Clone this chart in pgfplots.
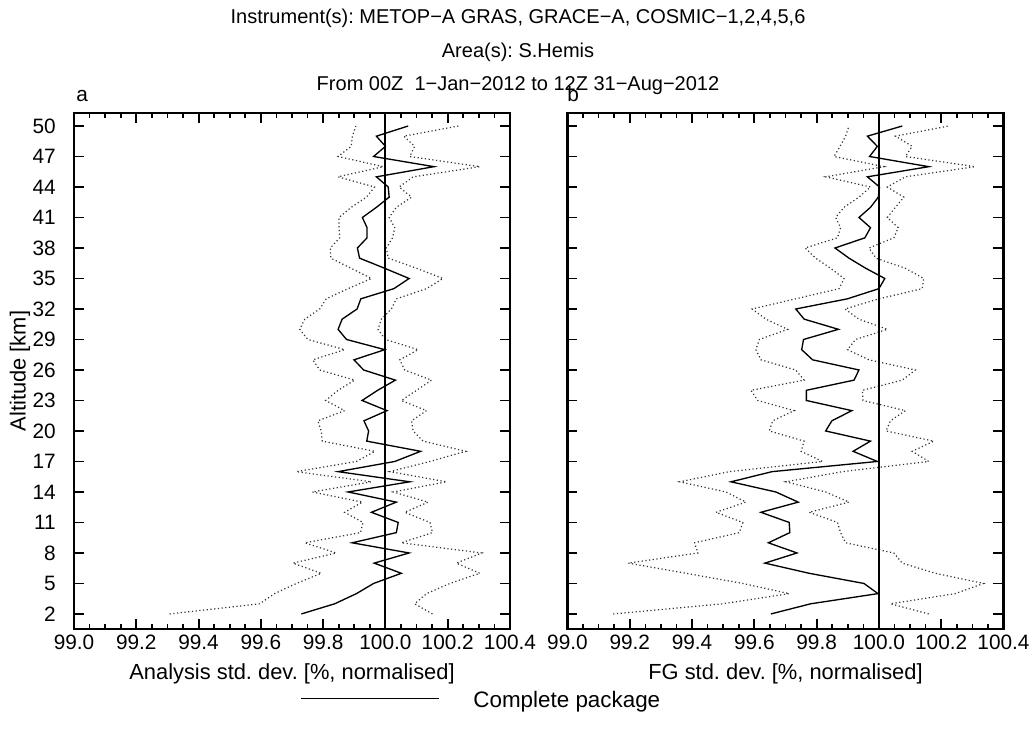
\documentclass[border=0pt]{standalone}
\usepackage{fontspec}
\setmainfont{Liberation Sans}
\usepackage{pgfplots}
\usepackage{pgfplotstable}
\pgfplotsset{compat=1.18}

\pgfplotstableread{
alt mid lo hi
2 99.730 99.307 100.151
3 99.837 99.596 100.094
4 99.907 99.644 100.132
5 99.962 99.714 100.207
6 100.051 99.794 100.303
7 99.964 99.703 100.228
8 100.076 99.842 100.309
9 99.893 99.741 100.051
10 100.035 99.920 100.151
11 100.041 99.928 100.143
12 99.955 99.869 100.062
13 100.035 99.926 100.137
14 99.880 99.765 100.025
15 100.078 99.955 100.196
16 99.848 99.714 100.014
17 100.030 99.907 100.143
18 100.113 99.966 100.258
19 99.940 99.797 100.121
20 99.946 99.794 100.089
21 99.931 99.783 100.084
22 100.005 99.869 100.132
23 99.925 99.808 100.051
24 99.975 99.848 100.100
25 100.032 99.901 100.148
26 99.930 99.789 100.062
27 99.899 99.767 100.046
28 99.998 99.869 100.105
29 99.875 99.751 100.000
30 99.848 99.725 99.976
31 99.861 99.741 99.987
32 99.909 99.789 100.019
33 99.921 99.810 100.035
34 100.027 99.880 100.132
35 100.076 99.955 100.185
36 99.998 99.890 100.100
37 99.917 99.825 100.009
38 99.910 99.823 100.003
39 99.941 99.853 100.023
40 99.941 99.851 100.030
41 99.926 99.851 100.012
42 99.971 99.890 100.035
43 100.012 99.939 100.084
44 100.009 99.965 100.044
45 99.971 99.848 100.089
46 100.156 99.993 100.303
47 99.962 99.848 100.078
48 100.000 99.890 100.094
49 99.971 99.894 100.059
50 100.073 99.905 100.234
}\tabA

\pgfplotstableread{
alt mid lo hi
2 99.653 99.147 100.160
3 99.781 99.499 100.037
4 99.997 99.712 100.245
5 99.952 99.563 100.336
6 99.776 99.381 100.181
7 99.634 99.195 100.075
8 99.737 99.419 100.048
9 99.645 99.408 99.893
10 99.714 99.552 99.877
11 99.712 99.563 99.867
12 99.621 99.477 99.776
13 99.741 99.573 99.904
14 99.669 99.509 99.829
15 99.525 99.360 99.701
16 99.657 99.520 99.883
17 99.995 99.819 100.160
18 99.917 99.750 100.107
19 99.973 99.760 100.176
20 99.829 99.648 100.023
21 99.849 99.659 100.037
22 99.913 99.728 100.085
23 99.767 99.611 99.949
24 99.767 99.589 99.947
25 99.920 99.760 100.075
26 99.936 99.733 100.117
27 99.787 99.621 99.968
28 99.752 99.605 99.899
29 99.758 99.616 99.925
30 99.870 99.707 100.027
31 99.760 99.637 99.936
32 99.733 99.593 99.891
33 99.899 99.733 100.000
34 100.000 99.872 100.139
35 100.019 99.888 100.144
36 99.958 99.845 100.085
37 99.904 99.797 99.991
38 99.859 99.763 99.968
39 99.955 99.867 100.048
40 99.973 99.877 100.062
41 99.936 99.861 100.027
42 99.973 99.888 100.053
43 99.998 99.936 100.080
44 100.002 99.973 100.027
45 99.963 99.829 100.085
46 100.160 100.016 100.309
47 99.970 99.856 100.085
48 99.995 99.875 100.107
49 99.963 99.893 100.053
50 100.075 99.904 100.224
}\tabB

\pgfplotsset{
  panel/.style={
    scale only axis, width=327pt, height=387pt,
    xmin=99, xmax=100.4, ymin=0.52, ymax=51.28,
    xtick={99,99.2,99.4,99.6,99.8,100,100.2,100.4},
    minor x tick num=3,
    ytick={2,5,8,11,14,17,20,23,26,29,32,35,38,41,44,47,50},
    axis line style={line width=1.6pt},
    major tick length=7.5pt, minor tick length=3.75pt,
    every major tick/.append style={black, line width=1.4pt},
    every minor tick/.append style={black, line width=1.2pt},
    xticklabel style={/pgf/number format/fixed, /pgf/number format/fixed zerofill, /pgf/number format/precision=1, /pgf/number format/assume math mode=true},
    yticklabel style={/pgf/number format/assume math mode=true},
    every x tick label/.append style={anchor=center, inner sep=0pt, yshift=-10pt},
    every y tick label/.append style={anchor=east, inner sep=0pt, xshift=-13.5pt},
    every axis x label/.style={at={(axis description cs:0.5,0)}, anchor=center, yshift=-33.5pt, font=\fontsize{16.4pt}{19pt}\selectfont},
    every axis y label/.style={at={(axis description cs:0,0.5)}, anchor=center, xshift=-40.5pt, rotate=90, font=\fontsize{16.4pt}{19pt}\selectfont},
    clip=true,
  },
  dotline/.style={black!80, line width=0.9pt, dash pattern=on 0.9pt off 1.9pt},
  solline/.style={black, line width=1.0pt},
}

\begin{document}
\frenchspacing
\fontsize{15.6pt}{18.5pt}\selectfont
\begin{tikzpicture}
\useasboundingbox (-55.5pt,-81.75pt) rectangle (720pt,471.75pt);

\begin{axis}[panel, at={(0pt,0pt)}, anchor=south west,
  xlabel={Analysis std. dev. [\%, normalised]},
  ylabel={Altitude [km]},
  legend style={draw=none, fill=none, inner sep=0pt, anchor=west, at={(0.518,-0.139)},
    font=\fontsize{16.8pt}{19pt}\selectfont,
    nodes={inner sep=0pt, anchor=west}, /tikz/every odd column/.append style={column sep=25.5pt}},
  legend image code/.code={\draw[#1] (0pt,1.5pt) -- (103.5pt,1.5pt);},
]
\addplot[dotline, forget plot] table[x=lo, y=alt] {\tabA};
\addplot[dotline, forget plot] table[x=hi, y=alt] {\tabA};
\addplot[solline] table[x=mid, y=alt] {\tabA};
\addlegendentry{Complete package}
\addplot[black, line width=1.6pt, forget plot] coordinates {(100,0) (100,52)};
\end{axis}

\begin{axis}[panel, at={(370.1pt,0pt)}, anchor=south west,
  xlabel={FG std. dev. [\%, normalised]},
  yticklabels={},
]
\addplot[dotline] table[x=lo, y=alt] {\tabB};
\addplot[dotline] table[x=hi, y=alt] {\tabB};
\addplot[solline] table[x=mid, y=alt] {\tabB};
\addplot[black, line width=1.3pt] coordinates {(100,0) (100,52)};
\end{axis}

\begin{scope}[every node/.style={font=\fontsize{15pt}{18pt}\selectfont, inner sep=0pt}]
\node[anchor=center] at (333pt,458.25pt) {Instrument(s): METOP−A GRAS, GRACE−A, COSMIC−1,2,4,5,6};
\node[anchor=center] at (333pt,432.75pt) {Area(s): S.Hemis};
\node[anchor=center] at (333pt,407.25pt) {From 00Z\ \ 1−Jan−2012 to 12Z 31−Aug−2012};
\end{scope}
\node[anchor=base west, inner sep=0pt] at (1.5pt,395.25pt) {a};
\node[anchor=base west, inner sep=0pt] at (369.75pt,395.25pt) {b};
\end{tikzpicture}
\end{document}
